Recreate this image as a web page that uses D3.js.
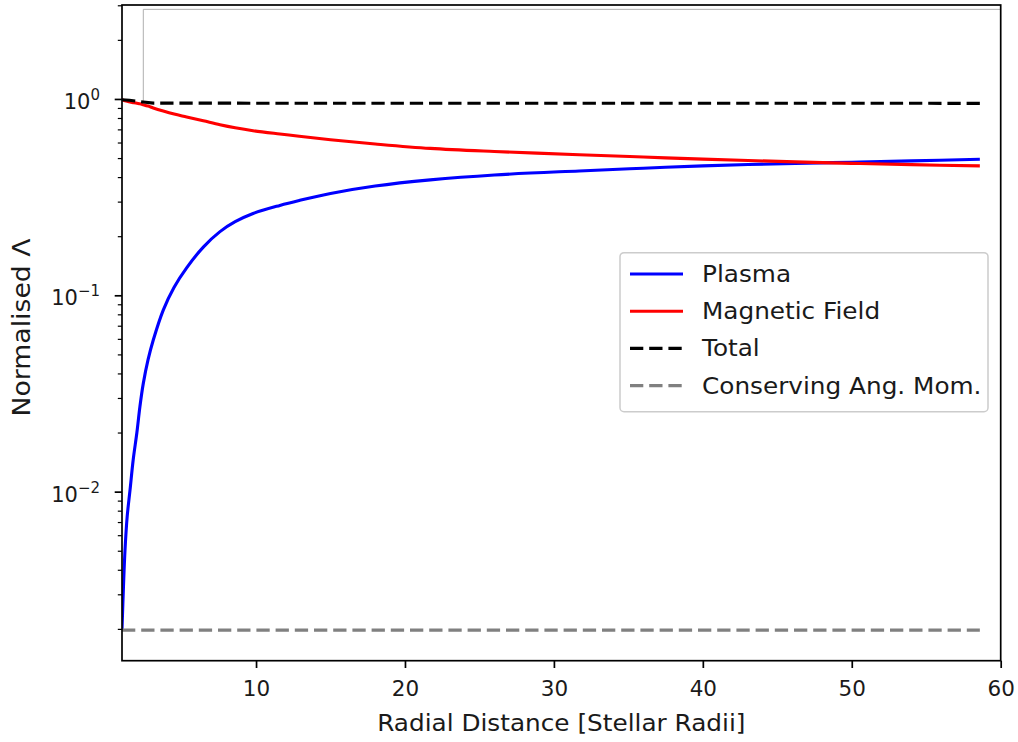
<!DOCTYPE html>
<html>
<head>
<meta charset="utf-8">
<script src="https://cdn.jsdelivr.net/npm/d3@7"></script>
<style>
  body { margin: 0; background: #fff; }
  text { font-family: "DejaVu Sans", sans-serif; fill: #1a1a1a; }
</style>
</head>
<body>
<div id="chart"></div>
<script>
// values
const radius = [1, 1.1, 1.2, 1.35, 1.54, 1.75, 2, 2.2, 2.43, 2.75, 3.1, 3.77, 4.5, 5.34, 6.46, 7.58, 8.6, 9.8, 11.6, 12.9, 15, 18, 21.7, 26, 31.7, 36, 40, 46.2, 50, 54, 58.6];
const plasma = [0.002, 0.0033, 0.005, 0.0075, 0.0102, 0.0145, 0.02, 0.027, 0.0356, 0.047, 0.0592, 0.0841, 0.110, 0.138, 0.176, 0.211, 0.237, 0.261, 0.287, 0.304, 0.33, 0.36, 0.387, 0.41, 0.43, 0.444, 0.456, 0.47, 0.476, 0.484, 0.493];
const magnetic = [0.99, 0.985, 0.98, 0.973, 0.965, 0.958, 0.95, 0.945, 0.935, 0.92, 0.9, 0.868, 0.838, 0.81, 0.774, 0.739, 0.713, 0.689, 0.663, 0.646, 0.62, 0.59, 0.56, 0.54, 0.52, 0.506, 0.494, 0.478, 0.47, 0.463, 0.456];
const totalX = [1, 1.5, 2.43, 3.1, 58.6];
const totalY = [0.99, 0.985, 0.965, 0.952, 0.95];
const conservingX = [1, 58.6];
const conservingY = [0.00197, 0.00197];
// thin glitch line near the start
const glitchX = [2.43, 2.43, 60];
const glitchY = [0.965, 2.86, 2.86];

const xTicks = [10, 20, 30, 40, 50, 60];
const yTicks = [1e-2, 1e-1, 1];
const yTickExp = ["\u22122", "\u22121", "0"];
const legendNames = ["Plasma", "Magnetic Field", "Total", "Conserving Ang. Mom."];
const legendColors = ["#0000ff", "#ff0000", "#000000", "#808080"];

const width = 1018, height = 742;
const plotLeft = 122, plotRight = 1000.7, plotTop = 5, plotBottom = 660.7;
const tickFont = 21.5;
const labelFont = 23;
const stretch = 1.075; // the source text looks a bit wider than plain DejaVu

const svg = d3.select("#chart").append("svg")
  .attr("width", width)
  .attr("height", height)
  .attr("viewBox", `0 0 ${width} ${height}`);

svg.append("rect").attr("width", width).attr("height", height).attr("fill", "#fff");

const x = d3.scaleLinear().domain([1, 60]).range([plotLeft, plotRight]);
const y = d3.scaleLog().domain([1.377e-3, 3.01]).range([plotBottom, plotTop]);

svg.append("clipPath").attr("id", "plot-clip")
  .append("rect")
  .attr("x", plotLeft).attr("y", plotTop)
  .attr("width", plotRight - plotLeft).attr("height", plotBottom - plotTop);

const plot = svg.append("g").attr("clip-path", "url(#plot-clip)");

const line = d3.line()
  .x(d => x(d[0]))
  .y(d => y(d[1]))
  .curve(d3.curveCatmullRom.alpha(0.5));

const straight = d3.line()
  .x(d => x(d[0]))
  .y(d => y(d[1]));

plot.append("path")
  .attr("d", straight(d3.zip(glitchX, glitchY)))
  .attr("fill", "none")
  .attr("stroke", "#b0b0b0")
  .attr("stroke-width", 1);

plot.append("path")
  .attr("d", line(d3.zip(radius, plasma)))
  .attr("fill", "none")
  .attr("stroke", legendColors[0])
  .attr("stroke-width", 3.1);

plot.append("path")
  .attr("d", line(d3.zip(radius, magnetic)))
  .attr("fill", "none")
  .attr("stroke", legendColors[1])
  .attr("stroke-width", 3.1);

plot.append("path")
  .attr("d", straight(d3.zip(totalX, totalY)))
  .attr("fill", "none")
  .attr("stroke", legendColors[2])
  .attr("stroke-width", 3.1)
  .attr("stroke-dasharray", "13.3,5.9");

plot.append("path")
  .attr("d", straight(d3.zip(conservingX, conservingY)))
  .attr("fill", "none")
  .attr("stroke", legendColors[3])
  .attr("stroke-width", 3.1)
  .attr("stroke-dasharray", "13.3,5.9");

// x axis
const xAxis = svg.append("g")
  .attr("transform", `translate(0,${plotBottom})`)
  .call(d3.axisBottom(x).tickValues(xTicks).tickSize(7.3).tickPadding(13).tickFormat(d3.format("d")));
xAxis.select(".domain").remove();
xAxis.selectAll("line").attr("stroke", "#000").attr("stroke-width", 1.7);
xAxis.selectAll("text").attr("font-size", tickFont).attr("font-family", "DejaVu Sans").attr("fill", "#1a1a1a");

// y axis, minor ticks first
const minor = [];
[-3, -2, -1, 0].forEach(e => {
  for (let m = 2; m <= 9; m++) {
    const v = m * Math.pow(10, e);
    if (v >= y.domain()[0] && v <= y.domain()[1]) minor.push(v);
  }
});
const yMinor = svg.append("g")
  .attr("transform", `translate(${plotLeft},0)`)
  .call(d3.axisLeft(y).tickValues(minor).tickSize(4.2).tickFormat(""));
yMinor.select(".domain").remove();
yMinor.selectAll("line").attr("stroke", "#000").attr("stroke-width", 1.2);

const yAxis = svg.append("g")
  .attr("transform", `translate(${plotLeft},0)`)
  .call(d3.axisLeft(y).tickValues(yTicks).tickSize(7.3).tickFormat(""));
yAxis.select(".domain").remove();
yAxis.selectAll("line").attr("stroke", "#000").attr("stroke-width", 1.7);

// 10^n labels
yTicks.forEach((v, i) => {
  const t = svg.append("text")
    .attr("x", 100)
    .attr("y", y(v) + 10)
    .attr("text-anchor", "end");
  t.append("tspan").attr("font-size", 21).text("10");
  t.append("tspan").attr("font-size", 15).attr("dy", -9).text(yTickExp[i]);
});

// frame
svg.append("rect")
  .attr("x", plotLeft).attr("y", plotTop)
  .attr("width", plotRight - plotLeft).attr("height", plotBottom - plotTop)
  .attr("fill", "none")
  .attr("stroke", "#000")
  .attr("stroke-width", 1.7);

function widen(sel, k) {
  sel.each(function () {
    const w = this.getComputedTextLength();
    d3.select(this).attr("textLength", w * k).attr("lengthAdjust", "spacingAndGlyphs");
  });
}

// axis titles
svg.append("text")
  .attr("x", (plotLeft + plotRight) / 2)
  .attr("y", 731)
  .attr("text-anchor", "middle")
  .attr("font-size", labelFont)
  .text("Radial Distance [Stellar Radii]")
  .call(widen, stretch);

svg.append("text")
  .attr("transform", `translate(30,327.5) rotate(-90)`)
  .attr("text-anchor", "middle")
  .attr("font-size", 24.5)
  .text("Normalised \u039b")
  .call(widen, 1.09);

// legend
const legend = svg.append("g").attr("transform", "translate(620,252.7)");
legend.append("rect")
  .attr("width", 368).attr("height", 159)
  .attr("rx", 4)
  .attr("fill", "#fff").attr("fill-opacity", 0.8)
  .attr("stroke", "#cccccc").attr("stroke-width", 1.5);

const rows = legend.selectAll(".row")
  .data(legendNames)
  .enter()
  .append("g")
  .attr("class", "row")
  .attr("transform", (d, i) => `translate(0,${21.3 + i * 37.2})`);

rows.append("line")
  .attr("x1", 10).attr("x2", 63)
  .attr("stroke", (d, i) => legendColors[i])
  .attr("stroke-width", 3.1)
  .attr("stroke-dasharray", (d, i) => i >= 2 ? "13.3,5.9" : null);

rows.append("text")
  .attr("x", 82)
  .attr("y", 8)
  .attr("font-size", labelFont)
  .text(d => d)
  .call(widen, stretch);
</script>
</body>
</html>
